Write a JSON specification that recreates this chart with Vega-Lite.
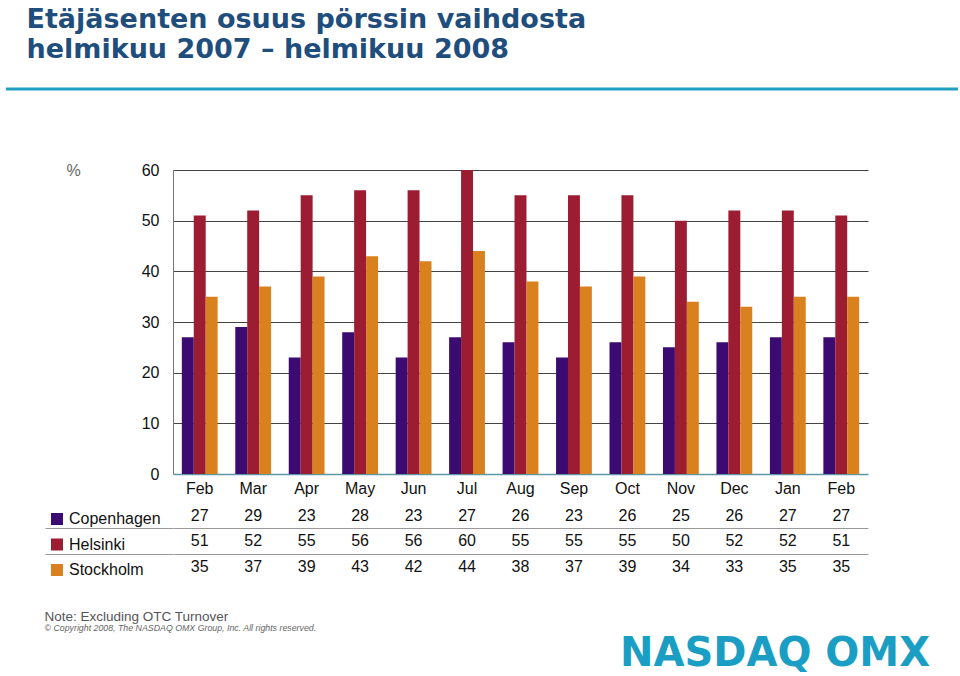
{
  "$schema": "https://vega.github.io/schema/vega-lite/v6.json",
  "background": "white",
  "padding": {"left": 4, "top": 5, "right": 4, "bottom": 0},
  "config": {"view": {"stroke": null}, "font": "Liberation Sans"},
  "title": {
    "text": ["Etäjäsenten osuus pörssin vaihdosta", "helmikuu 2007 – helmikuu 2008"],
    "anchor": "start",
    "frame": "bounds",
    "font": "DejaVu Sans",
    "fontSize": 27,
    "fontWeight": "bold",
    "color": "#1f4e7d",
    "lineHeight": 30,
    "dx": 22,
    "offset": 24
  },
  "datasets": {
    "share": [
      {"month": "Feb 2007", "city": "Copenhagen", "value": 27},
      {"month": "Mar 2007", "city": "Copenhagen", "value": 29},
      {"month": "Apr 2007", "city": "Copenhagen", "value": 23},
      {"month": "May 2007", "city": "Copenhagen", "value": 28},
      {"month": "Jun 2007", "city": "Copenhagen", "value": 23},
      {"month": "Jul 2007", "city": "Copenhagen", "value": 27},
      {"month": "Aug 2007", "city": "Copenhagen", "value": 26},
      {"month": "Sep 2007", "city": "Copenhagen", "value": 23},
      {"month": "Oct 2007", "city": "Copenhagen", "value": 26},
      {"month": "Nov 2007", "city": "Copenhagen", "value": 25},
      {"month": "Dec 2007", "city": "Copenhagen", "value": 26},
      {"month": "Jan 2008", "city": "Copenhagen", "value": 27},
      {"month": "Feb 2008", "city": "Copenhagen", "value": 27},
      {"month": "Feb 2007", "city": "Helsinki", "value": 51},
      {"month": "Mar 2007", "city": "Helsinki", "value": 52},
      {"month": "Apr 2007", "city": "Helsinki", "value": 55},
      {"month": "May 2007", "city": "Helsinki", "value": 56},
      {"month": "Jun 2007", "city": "Helsinki", "value": 56},
      {"month": "Jul 2007", "city": "Helsinki", "value": 60},
      {"month": "Aug 2007", "city": "Helsinki", "value": 55},
      {"month": "Sep 2007", "city": "Helsinki", "value": 55},
      {"month": "Oct 2007", "city": "Helsinki", "value": 55},
      {"month": "Nov 2007", "city": "Helsinki", "value": 50},
      {"month": "Dec 2007", "city": "Helsinki", "value": 52},
      {"month": "Jan 2008", "city": "Helsinki", "value": 52},
      {"month": "Feb 2008", "city": "Helsinki", "value": 51},
      {"month": "Feb 2007", "city": "Stockholm", "value": 35},
      {"month": "Mar 2007", "city": "Stockholm", "value": 37},
      {"month": "Apr 2007", "city": "Stockholm", "value": 39},
      {"month": "May 2007", "city": "Stockholm", "value": 43},
      {"month": "Jun 2007", "city": "Stockholm", "value": 42},
      {"month": "Jul 2007", "city": "Stockholm", "value": 44},
      {"month": "Aug 2007", "city": "Stockholm", "value": 38},
      {"month": "Sep 2007", "city": "Stockholm", "value": 37},
      {"month": "Oct 2007", "city": "Stockholm", "value": 39},
      {"month": "Nov 2007", "city": "Stockholm", "value": 34},
      {"month": "Dec 2007", "city": "Stockholm", "value": 33},
      {"month": "Jan 2008", "city": "Stockholm", "value": 35},
      {"month": "Feb 2008", "city": "Stockholm", "value": 35}
    ]
  },
  "spacing": 71,
  "vconcat": [
    {
      "width": 785,
      "height": 1,
      "data": {"values": [{"v": 0}]},
      "mark": {"type": "rule", "color": "#219fc1", "strokeWidth": 3},
      "encoding": {
        "y": {
          "field": "v",
          "type": "quantitative",
          "scale": {"domain": [0, 1]},
          "axis": {"values": [0], "labels": false, "domain": false, "grid": false, "ticks": true, "tickSize": 167, "tickWidth": 3, "tickColor": "#219fc1", "title": null, "minExtent": 0, "translate": 0}
        }
      }
    },
    {
      "spacing": 7,
      "title": {
        "text": "NASDAQ OMX",
        "orient": "bottom",
        "anchor": "end",
        "frame": "bounds",
        "font": "DejaVu Sans",
        "fontSize": 40,
        "fontWeight": "bold",
        "color": "#1b9ec4",
        "offset": 1,
        "dx": 62
      },
      "vconcat": [
        {
          "width": 695,
          "height": 304,
          "data": {"name": "share"},
          "mark": {"type": "bar"},
          "encoding": {
            "x": {
              "field": "month",
              "type": "nominal",
              "sort": ["Feb 2007", "Mar 2007", "Apr 2007", "May 2007", "Jun 2007", "Jul 2007", "Aug 2007", "Sep 2007", "Oct 2007", "Nov 2007", "Dec 2007", "Jan 2008", "Feb 2008"],
              "scale": {"paddingInner": 0.33, "paddingOuter": 0.165},
              "axis": {"title": null, "labelExpr": "split(datum.value, ' ')[0]", "labelAngle": 0, "ticks": false, "labelPadding": 6, "labelFontSize": 16, "labelColor": "#111", "domainColor": "#5e98a6", "domainWidth": 1.5, "grid": false}
            },
            "xOffset": {
              "field": "city",
              "type": "nominal",
              "sort": ["Copenhagen", "Helsinki", "Stockholm"],
              "scale": {"paddingInner": 0, "paddingOuter": 0}
            },
            "y": {
              "field": "value",
              "type": "quantitative",
              "scale": {"domain": [0, 60], "nice": false},
              "axis": {
                "values": [0, 10, 20, 30, 40, 50, 60],
                "grid": true,
                "gridColor": "#444",
                "gridOpacity": {"condition": {"test": "datum.value === 0", "value": 0}, "value": 1},
                "ticks": false,
                "domainColor": "#777",
                "labelPadding": 14,
                "labelFontSize": 16,
                "labelColor": "#111",
                "title": "%",
                "titleAngle": 0,
                "titleX": -107,
                "titleY": 0,
                "titleAlign": "left",
                "titleBaseline": "middle",
                "titleFontWeight": "normal",
                "titleFontSize": 16,
                "titleColor": "#666"
              }
            },
            "color": {
              "field": "city",
              "type": "nominal",
              "scale": {"domain": ["Copenhagen", "Helsinki", "Stockholm"], "range": ["#3c0b72", "#9c1c31", "#d9801f"]},
              "legend": {
                "orient": "none",
                "legendX": -124,
                "legendY": 423,
                "title": null,
                "symbolType": "square",
                "symbolSize": 144,
                "symbolStrokeWidth": 0,
                "symbolOpacity": 1,
                "labelFontSize": 16,
                "labelColor": "#111",
                "labelOffset": 4,
                "rowPadding": 9.5,
                "padding": 0
              }
            }
          }
        },
        {
          "width": 695,
          "height": 76.5,
          "data": {"name": "share"},
          "title": {
            "text": "Note: Excluding OTC Turnover",
            "subtitle": "© Copyright 2008, The NASDAQ OMX Group, Inc. All rights reserved.",
            "orient": "bottom",
            "anchor": "start",
            "frame": "bounds",
            "fontSize": 13.5,
            "fontWeight": "normal",
            "color": "#555",
            "subtitleFontSize": 8.8,
            "subtitleFontStyle": "italic",
            "subtitleColor": "#666",
            "subtitlePadding": 1,
            "offset": 30
          },
          "mark": {"type": "text", "fontSize": 16, "color": "#111", "baseline": "middle"},
          "encoding": {
            "x": {
              "field": "month",
              "type": "nominal",
              "sort": ["Feb 2007", "Mar 2007", "Apr 2007", "May 2007", "Jun 2007", "Jul 2007", "Aug 2007", "Sep 2007", "Oct 2007", "Nov 2007", "Dec 2007", "Jan 2008", "Feb 2008"],
              "axis": null
            },
            "y": {
              "field": "city",
              "type": "nominal",
              "sort": ["Copenhagen", "Helsinki", "Stockholm"],
              "scale": {"type": "band", "paddingInner": 0, "paddingOuter": 0},
              "axis": {"values": ["Helsinki", "Stockholm"], "bandPosition": 0, "tickExtra": false, "labels": false, "domain": false, "ticks": true, "tickSize": 128, "tickColor": "#999", "grid": true, "gridColor": "#999", "title": null}
            },
            "text": {"field": "value", "type": "quantitative"}
          }
        }
      ]
    }
  ]
}
